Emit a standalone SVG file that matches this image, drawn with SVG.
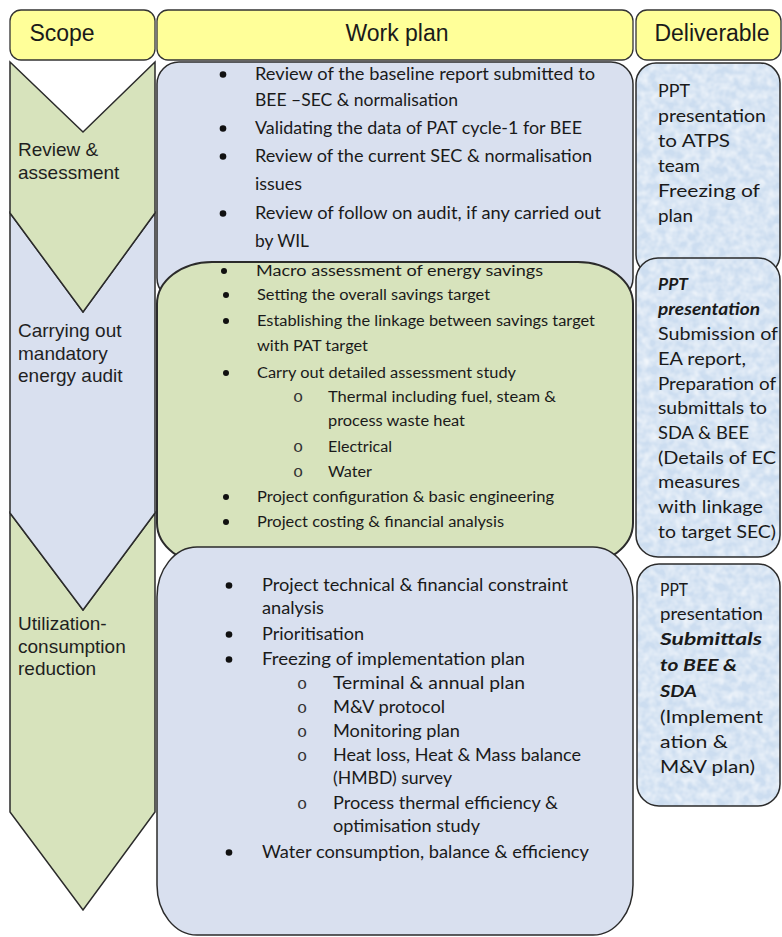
<svg xmlns="http://www.w3.org/2000/svg" width="782" height="937" viewBox="0 0 782 937">
<style>
.hdr{fill:#FFFF99;stroke:#333;stroke-width:1.3}
.hdrt{font-family:"Liberation Sans",Arial,sans-serif;font-size:23px;fill:#1a1a1a;text-anchor:middle}
.green{fill:#D7E3BC;stroke:#2b2b2b;stroke-width:1.5}
.blue{fill:#D9E0EF;stroke:#2b2b2b;stroke-width:1.5}
.lbl{font-family:"Liberation Sans",Arial,sans-serif;font-size:19px;fill:#1f1f1f}
.t{font-family:Lato,"Open Sans",sans-serif;fill:#1a1a1a}
.t1{font-size:17px}
.t2{font-size:15.5px}
.t3{font-size:17px}
.td{font-family:Lato,"Open Sans",sans-serif;font-size:17.5px;fill:#1a1a1a}
.bi{font-weight:bold;font-style:italic}
.b{fill:#111;stroke:none}
.o{font-family:"Liberation Mono","Courier New",monospace;font-size:17px;fill:#333;text-anchor:middle}
.dfill{fill:#CCDDF0;stroke:none}
.dstroke{fill:none;stroke:#2b2b2b;stroke-width:1.5}
</style>
<defs>
<filter id="mottle" x="0" y="0" width="100%" height="100%" color-interpolation-filters="sRGB">
<feTurbulence type="fractalNoise" baseFrequency="0.12" numOctaves="2" seed="7" result="noise"/>
<feColorMatrix in="noise" type="matrix" values="0 0 0 0 1  0 0 0 0 1  0 0 0 0 1  1.1 0 0 0 -0.3" result="spots"/>
<feComposite in="spots" in2="SourceGraphic" operator="in" result="clipped"/>
<feMerge><feMergeNode in="SourceGraphic"/><feMergeNode in="clipped"/></feMerge>
</filter>
</defs>
<rect width="782" height="937" fill="#ffffff"/>

<!-- Headers -->
<g id="header-scope">
<rect class="hdr" x="10" y="10" width="145" height="50" rx="11"/>
<text class="hdrt" x="62" y="41">Scope</text>
</g>
<g id="header-workplan">
<rect class="hdr" x="157" y="10" width="476" height="50" rx="11"/>
<text class="hdrt" x="397" y="41">Work plan</text>
</g>
<g id="header-deliverable">
<rect class="hdr" x="636" y="10" width="145" height="50" rx="11"/>
<text class="hdrt" x="712" y="41">Deliverable</text>
</g>

<!-- Scope chevrons -->
<g id="scope-utilization">
<polygon class="green" points="10,513 83,610 155,513 155,812 83,910 10,812"/>
<text class="lbl" x="18" y="630">Utilization-</text>
<text class="lbl" x="18" y="652.5">consumption</text>
<text class="lbl" x="18" y="675">reduction</text>
</g>
<g id="scope-audit">
<polygon class="blue" points="10,213 83,312 155,213 155,513 83,610 10,513"/>
<text class="lbl" x="18" y="337">Carrying out</text>
<text class="lbl" x="18" y="359.5">mandatory</text>
<text class="lbl" x="18" y="382">energy audit</text>
</g>
<g id="scope-review">
<polygon class="green" points="10,62 83,132 155,62 155,213 83,312 10,213"/>
<text class="lbl" x="18" y="156">Review &amp;</text>
<text class="lbl" x="18" y="178.5">assessment</text>
</g>

<!-- Work plan boxes -->
<g id="plan-review">
<rect class="blue" x="157" y="62" width="476" height="238" rx="22"/>
<circle class="b" cx="223" cy="74.5" r="3.3"/>
<text class="t t1" x="255" y="80" textLength="340" lengthAdjust="spacingAndGlyphs">Review of the baseline report submitted to</text>
<text class="t t1" x="255" y="106" textLength="203" lengthAdjust="spacingAndGlyphs">BEE –SEC &amp; normalisation</text>
<circle class="b" cx="223" cy="128.5" r="3.3"/>
<text class="t t1" x="255" y="134" textLength="327" lengthAdjust="spacingAndGlyphs">Validating the data of PAT cycle-1 for BEE</text>
<circle class="b" cx="223" cy="156.5" r="3.3"/>
<text class="t t1" x="255" y="162" textLength="337" lengthAdjust="spacingAndGlyphs">Review of the current SEC &amp; normalisation</text>
<text class="t t1" x="255" y="190" textLength="47" lengthAdjust="spacingAndGlyphs">issues</text>
<circle class="b" cx="223" cy="213.5" r="3.3"/>
<text class="t t1" x="255" y="219" textLength="346" lengthAdjust="spacingAndGlyphs">Review of follow on audit, if any carried out</text>
<text class="t t1" x="255" y="247" textLength="54" lengthAdjust="spacingAndGlyphs">by WIL</text>
</g>
<g id="plan-audit">
<rect class="green" style="stroke-width:2" x="157" y="262" width="476" height="303" rx="55" ry="42"/>
<circle class="b" cx="224" cy="271" r="3"/>
<text class="t t2" x="256" y="276" textLength="287" lengthAdjust="spacingAndGlyphs">Macro assessment of energy savings</text>
<circle class="b" cx="226" cy="295" r="3"/>
<text class="t t2" x="257" y="300" textLength="233" lengthAdjust="spacingAndGlyphs">Setting the overall savings target</text>
<circle class="b" cx="226" cy="321" r="3"/>
<text class="t t2" x="257" y="326" textLength="338" lengthAdjust="spacingAndGlyphs">Establishing the linkage between savings target</text>
<text class="t t2" x="257" y="351" textLength="111" lengthAdjust="spacingAndGlyphs">with PAT target</text>
<circle class="b" cx="226" cy="373" r="3"/>
<text class="t t2" x="257" y="378" textLength="259" lengthAdjust="spacingAndGlyphs">Carry out detailed assessment study</text>
<text class="o" x="298" y="402">o</text>
<text class="t t2" x="328" y="402" textLength="228" lengthAdjust="spacingAndGlyphs">Thermal including fuel, steam &amp;</text>
<text class="t t2" x="328" y="426" textLength="137" lengthAdjust="spacingAndGlyphs">process waste heat</text>
<text class="o" x="298" y="452">o</text>
<text class="t t2" x="328" y="452" textLength="64" lengthAdjust="spacingAndGlyphs">Electrical</text>
<text class="o" x="298" y="477">o</text>
<text class="t t2" x="328" y="477" textLength="44" lengthAdjust="spacingAndGlyphs">Water</text>
<circle class="b" cx="226" cy="497" r="3"/>
<text class="t t2" x="257" y="502" textLength="297" lengthAdjust="spacingAndGlyphs">Project configuration &amp; basic engineering</text>
<circle class="b" cx="226" cy="522" r="3"/>
<text class="t t2" x="257" y="527" textLength="247" lengthAdjust="spacingAndGlyphs">Project costing &amp; financial analysis</text>
</g>
<g id="plan-utilization">
<rect class="blue" x="157" y="547" width="476" height="388" rx="40" ry="50"/>
<circle class="b" cx="229" cy="585.5" r="3.3"/>
<text class="t t3" x="262" y="591" textLength="306" lengthAdjust="spacingAndGlyphs">Project technical &amp; financial constraint</text>
<text class="t t3" x="262" y="614" textLength="62" lengthAdjust="spacingAndGlyphs">analysis</text>
<circle class="b" cx="229" cy="634.5" r="3.3"/>
<text class="t t3" x="262" y="640" textLength="102" lengthAdjust="spacingAndGlyphs">Prioritisation</text>
<circle class="b" cx="229" cy="659.5" r="3.3"/>
<text class="t t3" x="262" y="665" textLength="263" lengthAdjust="spacingAndGlyphs">Freezing of implementation plan</text>
<text class="o" x="302" y="689">o</text>
<text class="t t3" x="333" y="689" textLength="192" lengthAdjust="spacingAndGlyphs">Terminal &amp; annual plan</text>
<text class="o" x="302" y="713">o</text>
<text class="t t3" x="333" y="713" textLength="112" lengthAdjust="spacingAndGlyphs">M&amp;V protocol</text>
<text class="o" x="302" y="737">o</text>
<text class="t t3" x="333" y="737" textLength="127" lengthAdjust="spacingAndGlyphs">Monitoring plan</text>
<text class="o" x="302" y="761">o</text>
<text class="t t3" x="333" y="761" textLength="248" lengthAdjust="spacingAndGlyphs">Heat loss, Heat &amp; Mass balance</text>
<text class="t t3" x="333" y="784" textLength="119" lengthAdjust="spacingAndGlyphs">(HMBD) survey</text>
<text class="o" x="302" y="809">o</text>
<text class="t t3" x="333" y="809" textLength="225" lengthAdjust="spacingAndGlyphs">Process thermal efficiency &amp;</text>
<text class="t t3" x="333" y="832" textLength="147" lengthAdjust="spacingAndGlyphs">optimisation study</text>
<circle class="b" cx="229" cy="852.5" r="3.3"/>
<text class="t t3" x="262" y="858" textLength="327" lengthAdjust="spacingAndGlyphs">Water consumption, balance &amp; efficiency</text>
</g>

<!-- Deliverables -->
<g id="deliverable-review">
<rect class="dfill" filter="url(#mottle)" x="636" y="63" width="144" height="212" rx="20"/>
<rect class="dstroke" x="636" y="63" width="144" height="212" rx="20"/>
<text class="td" x="658" y="97" textLength="32" lengthAdjust="spacingAndGlyphs">PPT</text>
<text class="td" x="658" y="122" textLength="108" lengthAdjust="spacingAndGlyphs">presentation</text>
<text class="td" x="658" y="147" textLength="72" lengthAdjust="spacingAndGlyphs">to ATPS</text>
<text class="td" x="658" y="172" textLength="42" lengthAdjust="spacingAndGlyphs">team</text>
<text class="td" x="658" y="197" textLength="102" lengthAdjust="spacingAndGlyphs">Freezing of</text>
<text class="td" x="658" y="222" textLength="35" lengthAdjust="spacingAndGlyphs">plan</text>
</g>
<g id="deliverable-audit">
<rect class="dfill" filter="url(#mottle)" x="636" y="258" width="144" height="299" rx="22"/>
<rect class="dstroke" x="636" y="258" width="144" height="299" rx="22"/>
<text class="td bi" x="658" y="290" textLength="30" lengthAdjust="spacingAndGlyphs">PPT</text>
<text class="td bi" x="658" y="315" textLength="102" lengthAdjust="spacingAndGlyphs">presentation</text>
<text class="td" x="658" y="340" textLength="120" lengthAdjust="spacingAndGlyphs">Submission of</text>
<text class="td" x="658" y="365" textLength="88" lengthAdjust="spacingAndGlyphs">EA report,</text>
<text class="td" x="658" y="390" textLength="118" lengthAdjust="spacingAndGlyphs">Preparation of</text>
<text class="td" x="658" y="414" textLength="109" lengthAdjust="spacingAndGlyphs">submittals to</text>
<text class="td" x="658" y="439" textLength="91" lengthAdjust="spacingAndGlyphs">SDA &amp; BEE</text>
<text class="td" x="658" y="464" textLength="118" lengthAdjust="spacingAndGlyphs">(Details of EC</text>
<text class="td" x="658" y="488" textLength="82" lengthAdjust="spacingAndGlyphs">measures</text>
<text class="td" x="658" y="513" textLength="105" lengthAdjust="spacingAndGlyphs">with linkage</text>
<text class="td" x="658" y="538" textLength="118" lengthAdjust="spacingAndGlyphs">to target SEC)</text>
</g>
<g id="deliverable-utilization">
<rect class="dfill" filter="url(#mottle)" x="637" y="564" width="143" height="242" rx="22"/>
<rect class="dstroke" x="637" y="564" width="143" height="242" rx="22"/>
<text class="td" x="660" y="596" textLength="28" lengthAdjust="spacingAndGlyphs">PPT</text>
<text class="td" x="660" y="620" textLength="103" lengthAdjust="spacingAndGlyphs">presentation</text>
<text class="td bi" x="660" y="645" textLength="102" lengthAdjust="spacingAndGlyphs">Submittals</text>
<text class="td bi" x="660" y="671" textLength="77" lengthAdjust="spacingAndGlyphs">to BEE &amp;</text>
<text class="td bi" x="660" y="697" textLength="37" lengthAdjust="spacingAndGlyphs">SDA</text>
<text class="td" x="660" y="723" textLength="103" lengthAdjust="spacingAndGlyphs">(Implement</text>
<text class="td" x="660" y="748" textLength="68" lengthAdjust="spacingAndGlyphs">ation &amp;</text>
<text class="td" x="660" y="773" textLength="95" lengthAdjust="spacingAndGlyphs">M&amp;V plan)</text>
</g>

<g id="connectors"></g>
</svg>
